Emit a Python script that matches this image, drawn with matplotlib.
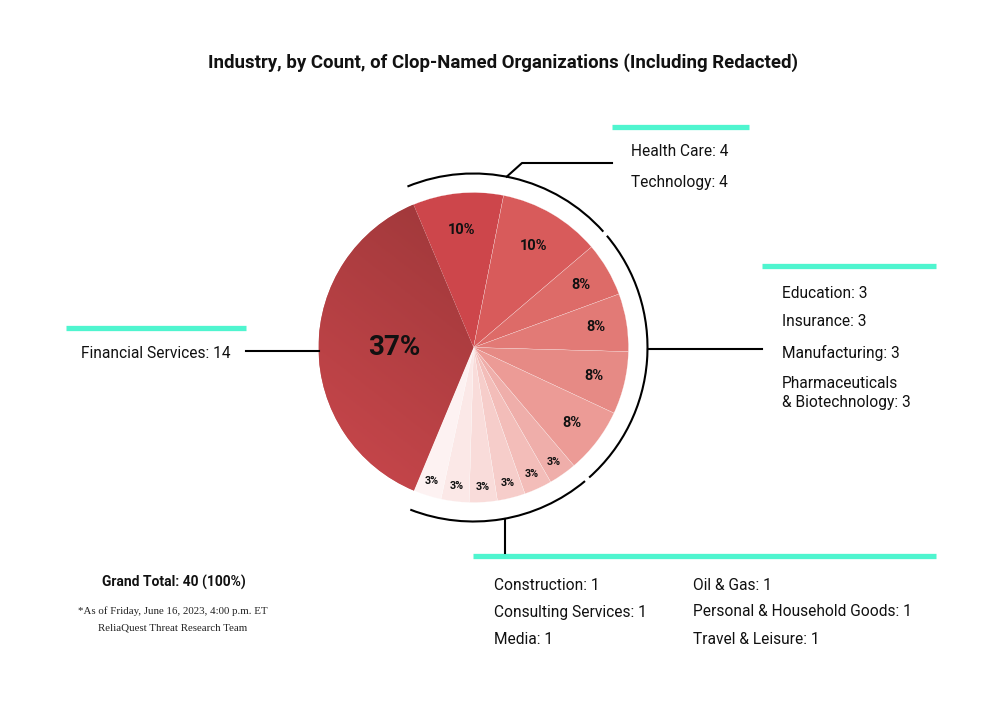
import numpy as np
import matplotlib
matplotlib.use("Agg")
import matplotlib.pyplot as plt
from matplotlib.patches import Arc

# data
industries = ["Financial Services", "Health Care", "Technology", "Education", "Insurance",
              "Manufacturing", "Pharmaceuticals\n& Biotechnology", "Construction",
              "Consulting Services", "Media", "Oil & Gas", "Personal & Household Goods",
              "Travel & Leisure"]
counts = [14, 4, 4, 3, 3, 3, 3, 1, 1, 1, 1, 1, 1]
pct_labels = ["37%", "10%", "10%", "8%", "8%", "8%", "8%", "3%", "3%", "3%", "3%", "3%", "3%"]
# slice sizes as drawn in the reference (share of the circle, %)
slice_share = [37.2, 9.4, 10.6, 5.6, 6.0, 6.5, 6.8, 2.9, 2.9, 2.9, 2.9, 2.9, 2.9]
slice_colors = ["#b23f43", "#cd464b", "#d85b5b", "#dd6b68", "#e27a76", "#e68a85", "#ec9b96",
                "#efaeaa", "#f3bdb9", "#f6cdca", "#f9dcda", "#fbe8e7", "#fdf2f2"]

TEAL = "#4ff5cf"
H = 716

plt.rcParams["font.family"] = ["Roboto", "DejaVu Sans"]

fig = plt.figure(figsize=(10, 7.16), dpi=100)
ax = fig.add_axes([0, 0, 1, 1])

cx, cy, R = 473.5, H - 347.5, 155
wedges, _ = ax.pie(slice_share, colors=slice_colors, startangle=247.4, counterclock=False,
                   center=(cx, cy), radius=R,
                   wedgeprops=dict(edgecolor="white", linewidth=0.15))

# gradient on the big slice (dark at top, lighter lower left)
gx, gy = np.meshgrid(np.linspace(0, 1, 200), np.linspace(0, 1, 200))
grad = 0.35 * gx + 0.9 * gy
img = ax.imshow(grad, extent=(cx - R, cx, cy - R, cy + R), origin="lower",
                cmap=matplotlib.colors.LinearSegmentedColormap.from_list(
                    "fin", ["#cc484d", "#9c3739"]), zorder=2, aspect="auto")
img.set_clip_path(wedges[0])

# percent labels
for i, w in enumerate(wedges):
    mid = np.deg2rad((w.theta1 + w.theta2) / 2)
    if i == 0:
        f, size = 0.51, 20
    elif counts[i] == 4:
        f, size = 0.76, 10.5
    elif counts[i] == 3:
        f, size = 0.80, 10.5
    else:
        f, size = 0.90, 7.8
    ax.text(cx + f * R * np.cos(mid), cy + f * R * np.sin(mid), pct_labels[i],
            ha="center", va="center", fontsize=size, fontweight="bold", color="#111111", zorder=5)

# outer arcs around groups
ra = 174
groups = [(1, 3), (3, 7), (7, 13)]
for a, b in groups:
    t_hi = wedges[a].theta2
    t_lo = wedges[b - 1].theta1
    ax.add_patch(Arc((cx, cy), 2 * ra, 2 * ra, theta1=t_lo + 1.3, theta2=t_hi - 0.5,
                     color="black", lw=1.5, zorder=4))

# connector lines
lk = dict(color="black", lw=1.5, zorder=4)
ang = np.deg2rad(79)
ax.plot([cx + ra * np.cos(ang), 522, 612], [cy + ra * np.sin(ang), H - 163, H - 163], **lk)
ax.plot([cx + ra, 762], [H - 349, H - 349], **lk)
ax.plot([505, 505], [cy - np.sqrt(ra ** 2 - (505 - cx) ** 2), H - 553], **lk)
ax.plot([246, cx - R], [H - 351, H - 351], **lk)

# teal bars
bk = dict(color=TEAL, lw=3.8, solid_capstyle="butt", zorder=3)
ax.plot([612, 749], [H - 127, H - 127], **bk)
ax.plot([762, 936], [H - 266, H - 266], **bk)
ax.plot([66, 246], [H - 328, H - 328], **bk)
ax.plot([473, 936], [H - 556, H - 556], **bk)

# group labels
tk = dict(fontsize=11.2, color="#111111", va="center", ha="left")
lab = [f"{n}: {c}" for n, c in zip(industries, counts)]
ax.text(81, H - 353, lab[0], **tk)
ax.text(631, H - 151, lab[1], **tk)
ax.text(631, H - 182, lab[2], **tk)
for yy, t in zip([293, 322, 353], lab[3:6]):
    ax.text(782, H - yy, t, **tk)
ax.text(782, H - 393, lab[6], linespacing=1.3, **tk)
for yy, t in zip([585, 612, 639], lab[7:10]):
    ax.text(494, H - yy, t, **tk)
for yy, t in zip([585, 612, 639], lab[10:13]):
    ax.text(693, H - yy, t, **tk)

ax.text(503, H - 63, "Industry, by Count, of Clop-Named Organizations (Including Redacted)",
        ha="center", va="center", fontsize=13.4, fontweight="bold", color="#111111")
ax.text(174, H - 582, f"Grand Total: {sum(counts)} (100%)", ha="center", va="center",
        fontsize=10, fontweight="bold", color="#111111")
ax.text(173, H - 611, "*As of Friday, June 16, 2023, 4:00 p.m. ET", ha="center", va="center",
        fontsize=7.8, family="Liberation Serif", color="#222222")
ax.text(173, H - 628, "ReliaQuest Threat Research Team", ha="center", va="center",
        fontsize=7.8, family="Liberation Serif", color="#222222")

ax.set_xlim(0, 1000)
ax.set_ylim(0, H)
ax.set_aspect("equal")
ax.set_axis_off()

fig.savefig("out.png", dpi=100, facecolor="white")
